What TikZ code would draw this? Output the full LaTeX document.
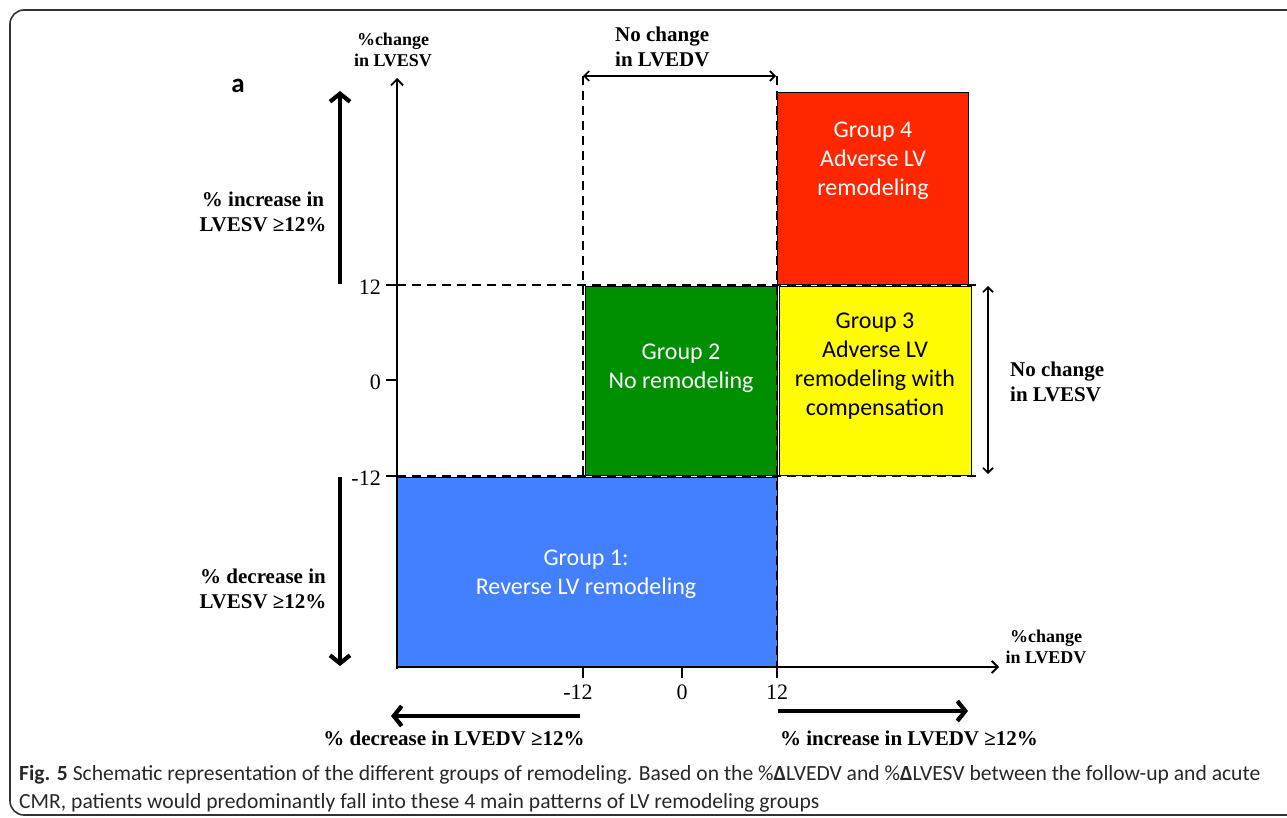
\documentclass[tikz,border=0pt]{standalone}
\usepackage{fontspec}
\setmainfont{Liberation Serif}
\newfontfamily\calfont{Carlito}
\usetikzlibrary{arrows.meta}
\definecolor{gred}{RGB}{255,38,0}
\definecolor{ggreen}{RGB}{0,143,0}
\definecolor{gyellow}{RGB}{255,251,0}
\definecolor{gblue}{RGB}{66,128,255}
\definecolor{framegray}{RGB}{50,50,50}
\definecolor{capgray}{RGB}{40,40,40}
\newcommand\lblfont{\bfseries\fontsize{21}{25}\selectfont}
\newcommand\axlblfont{\bfseries\fontsize{18}{21}\selectfont}
\newcommand\tickfont{\fontsize{22}{24}\selectfont}
\newcommand\grpfont{\calfont\fontsize{24}{29}\selectfont}
\newcommand\capfont{\calfont\fontsize{21.6}{28}\selectfont}
\tikzset{
  region/.style={draw=black, line width=0.6pt, inner sep=0pt, outer sep=0pt},
  grptext/.style={align=center, inner sep=0pt, font=\grpfont},
  lbl/.style={align=center, inner sep=0pt, font=\lblfont},
  axlbl/.style={align=center, inner sep=0pt, font=\axlblfont},
  ticklbl/.style={inner sep=0pt, font=\tickfont},
  dashline/.style={line width=2.7pt, dash pattern=on 9pt off 6pt},
  axisline/.style={line width=1.9pt, -{Straight Barb[length=6pt,width=12pt]}},
  tickline/.style={line width=1.9pt},
  bigarrow/.style={line width=4.2pt, -{Straight Barb[length=8pt,width=20pt]}},
  twoway/.style={line width=1.7pt, {Straight Barb[length=5pt,width=10pt]}-{Straight Barb[length=5pt,width=10pt]}},
}
\begin{document}
\begin{tikzpicture}[x=1pt,y=-1pt]
\useasboundingbox (0,0) rectangle (1287,818);
\clip (0,0) rectangle (1287,818);
% frame
\draw[framegray, line width=1.6pt, rounded corners=14pt] (10,10) rectangle (1310,815);

% coloured regions
\node[region, fill=gred, minimum width=191pt, minimum height=192pt] (g4) at (872.5,188) {};
\node[region, fill=ggreen, minimum width=192pt, minimum height=189pt] (g2) at (681,380.5) {};
\node[region, fill=gyellow, minimum width=192pt, minimum height=189pt] (g3) at (875,380.5) {};
\node[region, fill=gblue, minimum width=380pt, minimum height=190pt] (g1) at (587,572) {};

\node[grptext, text=white] (t4) at (873,161) {Group 4\\Adverse LV\\remodeling};
\node[grptext, text=black] (t3) at (875,366.5) {Group 3\\Adverse LV\\remodeling with\\compensation};
\node[grptext, text=white] (t2) at (681,368.5) {Group 2\\No remodeling};
\node[grptext, text=white] (t1) at (586,574.5) {Group 1:\\Reverse LV remodeling};

% key coordinates
\coordinate (O) at (397,667);
\coordinate (ytop) at (397,78);
\coordinate (ybot) at (397,669);
\coordinate (xend) at (999,667);
\coordinate (xstart) at (396,667);
\coordinate (h12a) at (397,285);  \coordinate (h12b) at (981,285);
\coordinate (hm12a) at (397,476); \coordinate (hm12b) at (981,476);
\coordinate (vm12a) at (583,76);  \coordinate (vm12b) at (583,476);
\coordinate (v12a) at (777,76);   \coordinate (v12b) at (777,667);
\coordinate (ty12) at (386,285); \coordinate (ty0) at (386,380); \coordinate (tym12) at (386,476);
\coordinate (ty0a) at (397,380);
\coordinate (txm12) at (583,678); \coordinate (tx0) at (682,678); \coordinate (tx12) at (777,678);
\coordinate (tx0a) at (682,667);

% dashed guides
\draw[dashline] (h12a) -- (h12b);
\draw[dashline] (hm12a) -- (hm12b);
\draw[dashline] (vm12a) -- (vm12b);
\draw[dashline] (v12a) -- (v12b);

% axes
\draw[axisline] (ybot) -- (ytop);
\draw[axisline] (xstart) -- (xend);
\draw[tickline] (ty12) -- (h12a);
\draw[tickline] (ty0) -- (ty0a);
\draw[tickline] (tym12) -- (hm12a);
\draw[tickline] (txm12) -- (vm12b |- O);
\draw[tickline] (tx0) -- (tx0a);
\draw[tickline] (tx12) -- (v12b);

% tick labels
\node[ticklbl, anchor=east] (l12) at (381,287) {12};
\node[ticklbl, anchor=east] (l0) at (381,382) {0};
\node[ticklbl, anchor=east] (lm12) at (381,478) {-12};
\node[ticklbl] (lxm12) at (578,692) {-12};
\node[ticklbl] (lx0) at (682,692) {0};
\node[ticklbl] (lx12) at (777,692) {12};

% axis titles
\node[axlbl] (yt) at (393,50) {\%change\\in LVESV};
\node[axlbl] (xt) at (1046,647) {\%change\\in LVEDV};

% two-way arrows and labels
\coordinate (nca) at (583,76); \coordinate (ncb) at (776,76);
\draw[twoway] (nca) -- (ncb);
\node[lbl, align=left, anchor=west] (nced) at (615,47) {No change\\in LVEDV};
\coordinate (nsa) at (988,286); \coordinate (nsb) at (988,474);
\draw[twoway] (nsa) -- (nsb);
\node[lbl, align=left, anchor=west] (nces) at (1010,382) {No change\\in LVESV};

% big arrows
\coordinate (ua) at (340,284); \coordinate (ub) at (340,91);
\draw[bigarrow] (ua) -- (ub);
\coordinate (da) at (340,477); \coordinate (db) at (340,666);
\draw[bigarrow] (da) -- (db);
\coordinate (la) at (580,716); \coordinate (lb) at (391,716);
\draw[bigarrow] (la) -- (lb);
\coordinate (ra) at (778,711); \coordinate (rb) at (968,711);
\draw[bigarrow] (ra) -- (rb);

\node[lbl] (incs) at (263,212) {\% increase in\\LVESV ≥12\%};
\node[lbl] (decs) at (263,589) {\% decrease in\\LVESV ≥12\%};
\node[lbl] (decd) at (454,738) {\% decrease in LVEDV ≥12\%};
\node[lbl] (incd) at (909,738) {\% increase in LVEDV ≥12\%};

% panel letter
\node[inner sep=0pt, font=\calfont\bfseries\fontsize{27}{30}\selectfont] (pa) at (238,86) {a};

% caption
\node[anchor=base west, inner sep=0pt, font=\capfont, text=capgray] (cap1) at (19,780)
  {\textbf{Fig. 5} Schematic representation of the different groups of remodeling. Based on the \%\textbf{Δ}LVEDV and \%\textbf{Δ}LVESV between the follow-up and acute};
\node[anchor=base west, inner sep=0pt, font=\capfont, text=capgray] (cap2) at (19,808)
  {CMR, patients would predominantly fall into these 4 main patterns of LV remodeling groups};
\end{tikzpicture}
\end{document}
